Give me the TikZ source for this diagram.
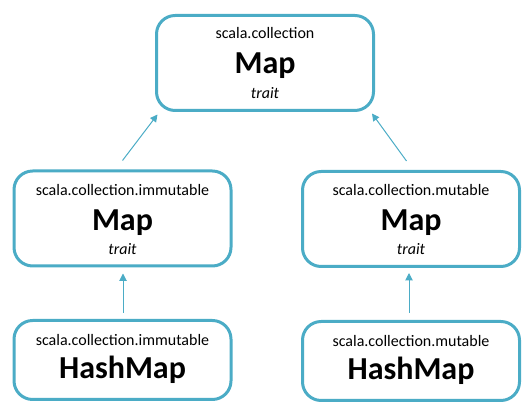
\documentclass[tikz,border=0pt]{standalone}
\usepackage{fontspec}
\setmainfont{Carlito}
\usetikzlibrary{arrows.meta,calc}
\definecolor{teal5}{HTML}{4BACC6}
\begin{document}
\begin{tikzpicture}[x=0.75pt,y=-0.75pt,
  box/.style={draw=teal5,line width=2.25pt,rounded corners=14pt,fill=white,
    minimum width=162.75pt,minimum height=71.25pt,inner sep=0pt},
  lowbox/.style={box,minimum height=59.25pt},
  pkg/.style={anchor=base,inner sep=0pt,font=\fontsize{12}{14}\selectfont},
  cls/.style={anchor=base,inner sep=0pt,font=\fontsize{24}{28}\selectfont\bfseries},
  kind/.style={anchor=base,inner sep=0pt,font=\fontsize{12}{14}\selectfont\itshape},
  inh/.style={draw=teal5,line width=0.75pt,-{Triangle[length=5.5pt,width=5.5pt]}}]
\useasboundingbox (0,0) rectangle (532,416);
% boxes
\node[box] (top) at (265,63) {};
\node[box] (ml) at (122.5,218.5) {};
\node[box] (mr) at (411,219) {};
\node[lowbox] (bl) at (122.5,360) {};
\node[lowbox] (br) at (411,361) {};
% texts
\node[pkg] (topp) at ($(top.center)+(0,-24)$) {scala.collection};
\node[cls] (topc) at ($(top.center)+(0,11)$) {Map};
\node[kind] (topk) at ($(top.center)+(0,36)$) {trait};
\node[pkg] (mlp) at ($(ml.center)+(0,-23)$) {scala.collection.immutable};
\node[cls] (mlc) at ($(ml.center)+(0,12)$) {Map};
\node[kind] (mlk) at ($(ml.center)+(0,36)$) {trait};
\node[pkg] (mrp) at ($(mr.center)+(0,-23)$) {scala.collection.mutable};
\node[cls] (mrc) at ($(mr.center)+(0,12)$) {Map};
\node[kind] (mrk) at ($(mr.center)+(0,36)$) {trait};
\node[pkg] (blp) at ($(bl.center)+(0,-14.5)$) {scala.collection.immutable};
\node[cls] (blc) at ($(bl.center)+(0,19)$) {HashMap};
\node[pkg] (brp) at ($(br.center)+(0,-14.5)$) {scala.collection.mutable};
\node[cls] (brc) at ($(br.center)+(0,19)$) {HashMap};
% connectors
\draw[inh] ($(ml.north)+(0,-9)$) -- ($(top.south west)+(2.5,2.5)$);
\draw[inh] ($(mr.north)+(-4.5,-9)$) -- ($(top.south east)+(-3,1.5)$);
\draw[inh] ($(bl.north)+(0.5,-6)$) -- ($(ml.south)+(0.5,6)$);
\draw[inh] ($(br.north)+(-2,-7)$) -- ($(mr.south)+(-2,5)$);
\end{tikzpicture}
\end{document}
